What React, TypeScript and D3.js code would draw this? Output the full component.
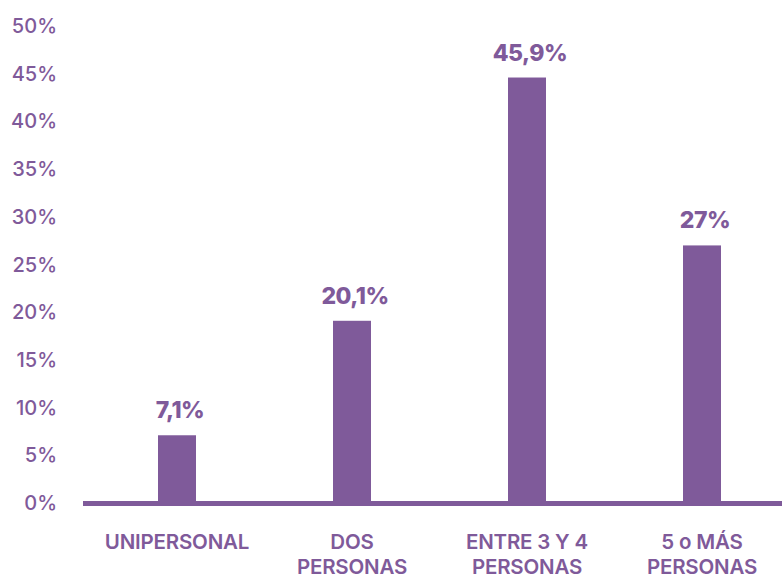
import React from "react";
import * as d3 from "d3";

const categories: string[][] = [
  ["UNIPERSONAL"],
  ["DOS", "PERSONAS"],
  ["ENTRE 3 Y 4", "PERSONAS"],
  ["5 o MÁS", "PERSONAS"],
];
// bar heights (percent)
const barValues = [7.1, 19.1, 44.6, 27.0];
// value labels printed above the bars
const valueLabels = ["7,1%", "20,1%", "45,9%", "27%"];
const yTicks = [0, 5, 10, 15, 20, 25, 30, 35, 40, 45, 50];

const W = 782;
const H = 579;
const PURPLE = "#7f5a9a";
const FONT = "Inter, 'Noto Sans', sans-serif";

export default function App() {
  const ids = categories.map((_, i) => String(i));
  const p = 1 - 38 / 175;
  const x = d3
    .scaleBand<string>()
    .domain(ids)
    .range([89.5, 789.5])
    .paddingInner(p)
    .paddingOuter(p / 2);
  const y = d3.scaleLinear().domain([0, 50]).range([503, 26]);

  return (
    <svg
      width={W}
      height={H}
      style={{ position: "absolute", left: 0, top: 0, background: "#fff" }}
      fontFamily={FONT}
    >
      {yTicks.map((t) => (
        <text
          key={t}
          x={57}
          y={y(t)}
          textAnchor="end"
          dominantBaseline="central"
          fontSize={20}
          fontWeight={500}
          fill={PURPLE}
        >
          {`${t}%`}
        </text>
      ))}
      {barValues.map((v, i) => (
        <rect
          key={i}
          x={x(ids[i])}
          y={y(v)}
          width={x.bandwidth()}
          height={y(0) - y(v)}
          fill={PURPLE}
        />
      ))}
      <rect x={83} y={y(0) - 2} width={W - 83} height={5} fill={PURPLE} />
      {valueLabels.map((l, i) => (
        <text
          key={i}
          x={(x(ids[i]) as number) + x.bandwidth() / 2 + 3}
          y={y(barValues[i]) - 17}
          textAnchor="middle"
          fontSize={23}
          fontWeight={800}
          letterSpacing={-0.5}
          fill={PURPLE}
        >
          {l}
        </text>
      ))}
      {categories.map((lines, i) => (
        <text
          key={i}
          textAnchor="middle"
          fontSize={20.5}
          fontWeight={600}
          letterSpacing={-0.2}
          fill={PURPLE}
        >
          {lines.map((ln, j) => (
            <tspan
              key={j}
              x={(x(ids[i]) as number) + x.bandwidth() / 2}
              y={549 + j * 25}
            >
              {ln}
            </tspan>
          ))}
        </text>
      ))}
    </svg>
  );
}
